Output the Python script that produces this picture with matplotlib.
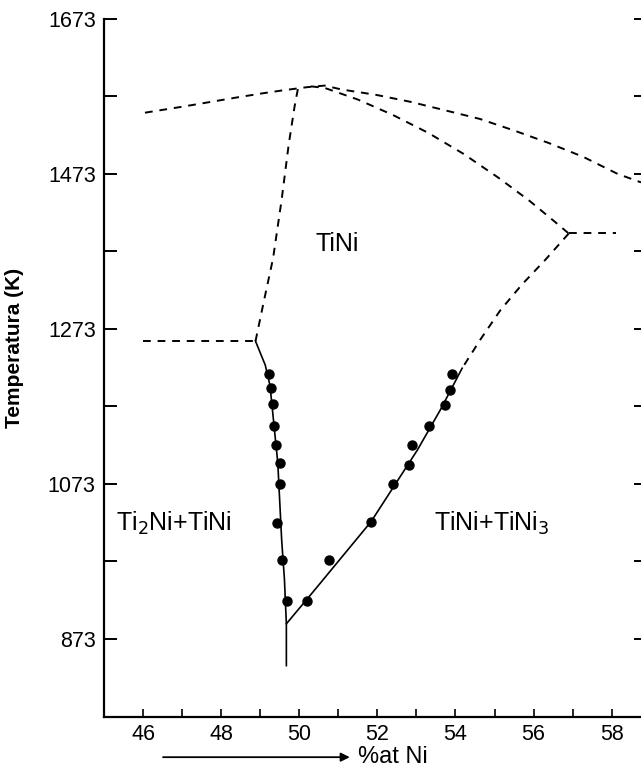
import matplotlib
matplotlib.use("Agg")
import matplotlib.pyplot as plt
import numpy as np

plt.rcParams['font.family'] = ['Liberation Sans', 'DejaVu Sans']

# liquidus (dashed), Ti side to Ni side through the congruent maximum
liq_x = [46.05, 47.04, 47.74, 48.44, 49.06, 49.6, 50.21, 50.65, 51.08, 51.97, 52.85, 53.74, 54.62, 55.5, 56.38, 57.27, 58.15, 58.75]
liq_t = [1552, 1560, 1566, 1572, 1577, 1581, 1585, 1587, 1582, 1575, 1566, 1555, 1544, 1529, 1513, 1495, 1473, 1462]

# TiNi solidus, Ti side (dashed)
sol_ti_x = [48.88, 49.1, 49.33, 49.55, 49.73, 49.88, 49.97]
sol_ti_t = [1257, 1310, 1364, 1440, 1511, 1560, 1584]

# TiNi solidus, Ni side (dashed), down to the peritectic
sol_ni_x = [50.3, 50.65, 51.5, 52.4, 53.3, 54.2, 55.1, 55.9, 56.5, 56.9]
sol_ni_t = [1586, 1584, 1569, 1549, 1526, 1499, 1468, 1438, 1413, 1396]

# TiNi / TiNi+TiNi3 boundary, high temperature part (dashed)
bnd_hi_x = [56.9, 56.3, 55.7, 55.15, 54.65, 54.17]
bnd_hi_t = [1396, 1362, 1330, 1297, 1260, 1222]

# eutectic and peritectic isotherms (dashed)
eut_x = [46.0, 48.88]
eut_t = [1257, 1257]
per_x = [56.9, 58.1]
per_t = [1396, 1396]

# solvus lines (solid)
solv_ti_x = [48.88, 49.13, 49.25, 49.35, 49.45, 49.5, 49.55, 49.62, 49.67, 49.67]
solv_ti_t = [1257, 1226, 1200, 1150, 1100, 1050, 1000, 950, 892, 838]
solv_ni_x = [49.67, 50.4, 51.84, 53.02, 53.61, 54.17]
solv_ni_t = [892, 936, 1024, 1116, 1168, 1222]

# measured points
pts_ti_x = [49.22, 49.27, 49.34, 49.35, 49.41, 49.5, 49.5, 49.42, 49.57, 49.69]
pts_ti_t = [1215, 1196, 1176, 1148, 1123, 1099, 1072, 1022, 974, 922]
pts_ni_x = [53.91, 53.87, 53.74, 53.31, 52.89, 52.8, 52.4, 51.84, 50.76, 50.2]
pts_ni_t = [1215, 1194, 1174, 1147, 1123, 1097, 1072, 1024, 974, 922]

fig = plt.figure(figsize=(6.41, 7.75), dpi=100)
ax = fig.add_axes([0.1622, 0.0752, 0.8378, 0.9003])

dash = dict(color='black', lw=1.4, dashes=(4, 3.5))
ax.plot(liq_x, liq_t, **dash)
ax.plot(sol_ti_x, sol_ti_t, **dash)
ax.plot(sol_ni_x, sol_ni_t, **dash)
ax.plot(bnd_hi_x, bnd_hi_t, **dash)
ax.plot(eut_x, eut_t, **dash)
ax.plot(per_x, per_t, **dash)

ax.plot(solv_ti_x, solv_ti_t, color='black', lw=1.2)
ax.plot(solv_ni_x, solv_ni_t, color='black', lw=1.2)
ax.plot(pts_ti_x, pts_ti_t, 'o', color='black', ms=6.5)
ax.plot(pts_ni_x, pts_ni_t, 'o', color='black', ms=6.5)

ax.text(50.98, 1382, 'TiNi', fontsize=18, ha='center', va='center')
ax.text(46.78, 1021, 'Ti$_2$Ni+TiNi', fontsize=18, ha='center', va='center')
ax.text(54.92, 1021, 'TiNi+TiNi$_3$', fontsize=18, ha='center', va='center')

ax.set_xlim(45, 58.75)
ax.set_ylim(772, 1673)
ax.set_xticks(np.arange(46, 59, 2))
ax.set_xticks(np.arange(45, 59, 1), minor=True)
ax.set_yticks([873, 1073, 1273, 1473, 1673])
ax.set_yticks([973, 1173, 1373, 1573], minor=True)

ax.spines['top'].set_visible(False)
ax.spines['right'].set_visible(False)
for s in ['left', 'bottom']:
    ax.spines[s].set_linewidth(1.6)

ax.tick_params(axis='x', which='both', direction='in', length=6, width=1.2, labelsize=15.5, pad=5)
ax.tick_params(axis='y', which='both', direction='in', length=9, width=1.4, labelsize=15.5,
               right=True, labelright=False, pad=6)
for t in ax.yaxis.get_major_ticks() + ax.yaxis.get_minor_ticks():
    t.tick2line.set_markersize(5)

ax.set_ylabel('Temperatura (K)', fontsize=15, fontweight='bold')
ax.yaxis.set_label_coords(-0.149, 0.529)

fig.patches.append(matplotlib.patches.FancyArrowPatch(
    (0.25, 0.023), (0.55, 0.023), transform=fig.transFigure,
    arrowstyle='-|>', mutation_scale=13, lw=1.3, color='black'))
fig.text(0.558, 0.023, '%at Ni', fontsize=17, ha='left', va='center')

fig.savefig('out.png', dpi=100)
